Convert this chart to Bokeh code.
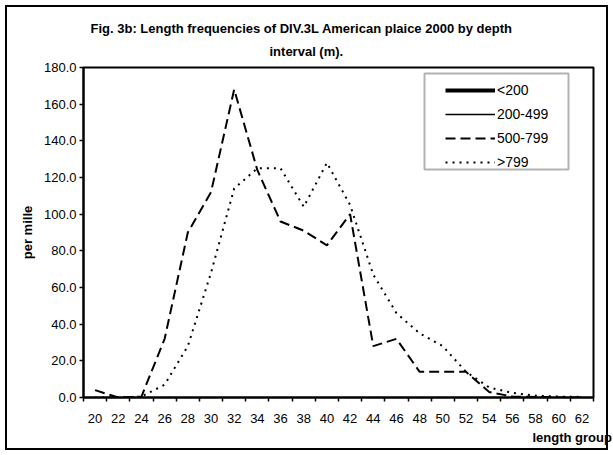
import math
from bokeh.plotting import figure
from bokeh.models import (FixedTicker, NumeralTickFormatter, BoxAnnotation,
                          Legend, LegendItem, Range1d, Title)
from bokeh.embed import file_html
from bokeh.resources import INLINE

# ---- data ----
lengths = [20, 22, 24, 26, 28, 30, 32, 34, 36, 38, 40, 42, 44, 46, 48, 50, 52, 54, 56, 58, 60, 62]
tick_labels = [str(v) for v in lengths]
series_names = ["<200", "200-499", "500-799", ">799"]
lt200 = []          # no visible data in the chart
s200_499 = []       # no visible data in the chart
s500_799 = [4, 0, 0.5, 32, 90, 112, 168, 124, 96, 91, 83, 100, 28, 32, 14, 14, 14, 3, 0.5, 0.3, 0, 0]
gt799 = [0, 0, 0.5, 7, 28, 68, 114, 125, 125, 104, 128, 105, 67, 46, 35, 28, 14, 5.5, 2.5, 1, 0.5, 0.3]
y_ticks = [0, 20, 40, 60, 80, 100, 120, 140, 160, 180]
title_lines = ["Fig. 3b: Length frequencies of DIV.3L American plaice 2000 by depth", "interval (m)."]

FONT = "Liberation Sans"
W, H = 613, 455

p = figure(width=W, height=H, output_backend="svg", toolbar_location=None,
           x_range=Range1d(lengths[0] - 1, lengths[-1] + 1),
           y_range=Range1d(y_ticks[0], y_ticks[-1]),
           min_border_left=83, min_border_right=20, min_border_top=67, min_border_bottom=58)
p.background_fill_color = "white"
p.border_fill_color = None
p.grid.visible = False
p.outline_line_color = "black"
p.outline_line_width = 2
p.outline_line_alpha = 1
p.styles = {"outline": "2px solid black", "outline-offset": "-7px",
            "background-color": "white"}

# x axis: labels at centres, ticks at category boundaries
xa = p.xaxis[0]
xa.ticker = FixedTicker(ticks=lengths, minor_ticks=[v - 1 for v in lengths] + [lengths[-1] + 1])
xa.major_label_overrides = {v: t for v, t in zip(lengths, tick_labels)}
xa.major_tick_line_color = None
xa.major_tick_out = 0
xa.minor_tick_in = 0
xa.minor_tick_out = 4
xa.minor_tick_line_color = "black"
xa.minor_tick_line_width = 1.5
xa.axis_line_width = 2
xa.major_label_standoff = 12
xa.major_label_text_font = FONT
xa.major_label_text_font_size = "13px"
xa.major_label_text_color = "black"

ya = p.yaxis[0]
ya.ticker = FixedTicker(ticks=y_ticks)
ya.formatter = NumeralTickFormatter(format="0.0")
ya.major_tick_in = 0
ya.major_tick_out = 4
ya.major_tick_line_width = 1.5
ya.minor_tick_line_color = None
ya.axis_line_width = 2
ya.major_label_standoff = 3
ya.major_label_text_font = FONT
ya.major_label_text_font_size = "13px"
ya.major_label_text_color = "black"
ya.axis_label = "per mille"
ya.axis_label_text_font = FONT
ya.axis_label_text_font_size = "13px"
ya.axis_label_text_font_style = "bold"
ya.axis_label_text_color = "black"
ya.axis_label_standoff = 6

# ---- series ----
def xy(vals):
    if not vals:  # empty series: legend entry only
        return [math.nan], [math.nan]
    return lengths[:len(vals)], vals

x0, y0 = xy(lt200)
r_lt = p.line(x=x0, y=y0, line_color="black", line_width=4)
x1, y1 = xy(s200_499)
r_200 = p.line(x=x1, y=y1, line_color="black", line_width=1.5)
r_500 = p.line(x=lengths, y=s500_799, line_color="black", line_width=2, line_dash="10 5")
r_799 = p.line(x=lengths, y=gt799, line_color="black", line_width=2, line_dash="2 5")

legend = Legend(items=[LegendItem(label=n, renderers=[r]) for n, r in
                       zip(series_names, [r_lt, r_200, r_500, r_799])],
                location=(362, 226), padding=0, spacing=6, glyph_width=50, glyph_height=18,
                label_height=18, label_standoff=2, border_line_alpha=0,
                background_fill_alpha=0, label_text_font=FONT, label_text_font_size="14px",
                label_text_color="black", margin=0)
p.add_layout(legend)

# legend frame
p.add_layout(BoxAnnotation(left=424, right=568, top=73, bottom=169,
                           left_units="canvas", right_units="canvas",
                           top_units="canvas", bottom_units="canvas",
                           fill_alpha=0, line_color="black", line_width=2))

# title (two lines, second one nearest the plot) and x label
p.add_layout(Title(text=title_lines[1], align="left", offset=186, text_font=FONT,
                   text_font_size="13px", text_font_style="bold", text_color="black",
                   vertical_align="top", standoff=13), "above")
p.add_layout(Title(text=title_lines[0], align="left", offset=7, text_font=FONT,
                   text_font_size="13px", text_font_style="bold", text_color="black",
                   vertical_align="bottom", standoff=3), "above")
p.add_layout(Title(text="length group", align="left", offset=449, text_font=FONT,
                   text_font_size="13px", text_font_style="bold", text_color="black",
                   standoff=4), "below")

open("out.html", "w").write(file_html(p, INLINE))
